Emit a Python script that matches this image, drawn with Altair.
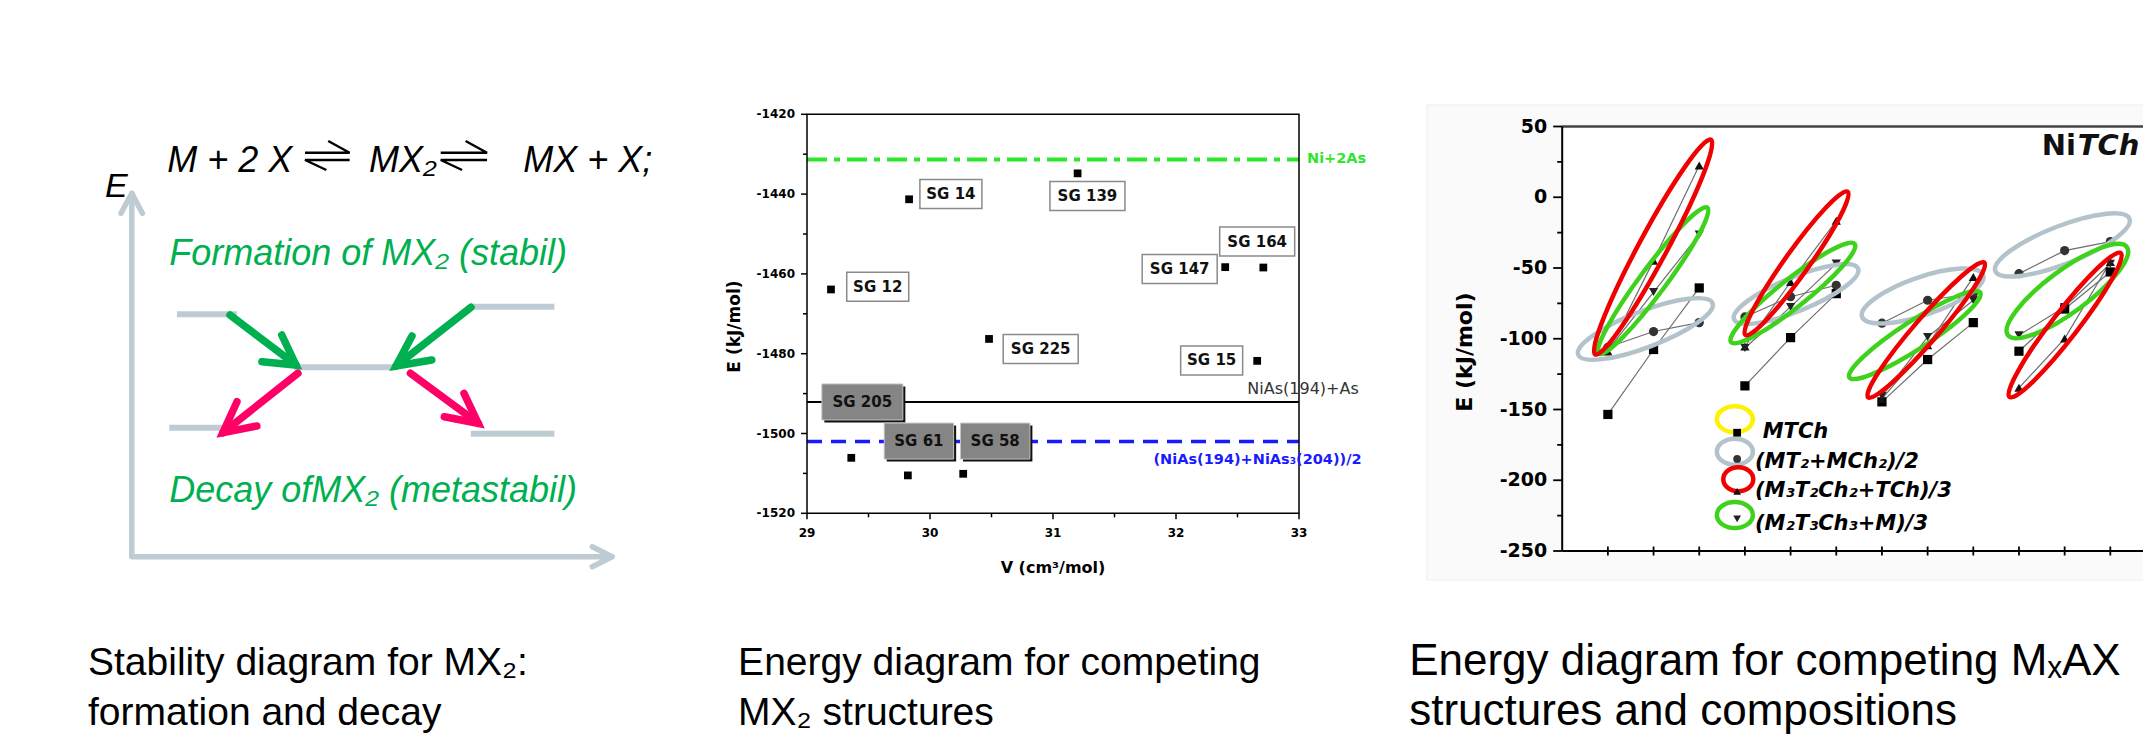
import altair as alt
import pandas as pd

W, H = 2135, 730

# ======================= Panel 1: stability schematic (abstract units 0..100) =======================
lvl_u1 = [9.4, 70.6, 33.8, 7.8, 70.6]
lvl_u2 = [21.9, 88.0, 55.0, 19.7, 88.0]
lvl_v = [66.7, 68.8, 52.1, 35.5, 33.8]

arr_kind = ["formation", "formation", "decay", "decay"]
arr_start_u = [20.45, 70.64, 34.59, 58.02]
arr_start_v = [66.5, 68.63, 50.47, 50.47]
arr_tip_u = [34.19, 55.02, 18.97, 72.14]
arr_tip_v = [52.75, 52.48, 34.12, 36.71]
arr_wa_u = [27.1, 58.35, 21.9, 65.08]
arr_wa_v = [53.66, 60.73, 42.65, 38.52]
arr_wb_u = [31.24, 62.47, 26.03, 69.18]
arr_wb_v = [61.0, 54.13, 35.97, 44.96]

harp_left_u = [36.07, 64.33]
harp_right_u = [45.36, 73.97]
harp_topbarb_u = [40.9, 69.51]
harp_botbarb_u = [40.52, 68.78]
harp_v = [111.17, 114.39, 109.16, 106.41]  # top line, top barb, bottom line, bottom barb

eq_text = ["M + 2 X", "MX\u2082", "MX + X;"]
eq_u = [7.4, 49.4, 81.5]
eq_v = [105.9, 105.9, 105.9]

green_text = ["Formation of MX\u2082 (stabil)", "Decay ofMX\u2082 (metastabil)"]
green_u = [7.8, 7.8]
green_v = [80.3, 15.1]

cap1 = ["Stability diagram for MX\u2082:", "formation and decay"]
cap1_u = [-9.12, -9.12]
cap1_v = [-32.55, -46.31]

# ======================= Panel 2: energy of MX2 structures =======================
v_vals = [29.83, 31.20, 29.195, 30.48, 32.40, 32.71, 32.66, 29.36, 29.82, 30.27]
e_vals = [-1441.3, -1434.8, -1463.9, -1476.3, -1458.3, -1458.4, -1481.8, -1506.1, -1510.5, -1510.1]

sg_white = ["SG 14", "SG 139", "SG 164", "SG 147", "SG 12", "SG 225", "SG 15"]
sg_white_v = [30.17, 31.28, 32.66, 32.03, 29.575, 30.90, 32.29]
sg_white_e = [-1440.0, -1440.5, -1451.9, -1458.8, -1463.2, -1478.8, -1481.7]
sg_gray = ["SG 205", "SG 61", "SG 58"]
sg_gray_v = [29.45, 29.91, 30.53]
sg_gray_e = [-1492.1, -1501.9, -1501.9]

ref_e = [-1431.3, -1492.1, -1502.0]
ref_label = ["Ni+2As", "NiAs(194)+As", "(NiAs(194)+NiAs\u2083(204))/2"]
ref_label_v = [33.065, 32.58, 31.817]
ref_label_e = [-1431.3, -1488.9, -1506.6]

p2_xticks = [29, 30, 31, 32, 33]
p2_xminor = [29.5, 30.5, 31.5, 32.5]
p2_yticks = [-1520, -1500, -1480, -1460, -1440, -1420]
p2_yminor = [-1510, -1490, -1470, -1450, -1430]

cap2 = ["Energy diagram for competing", "MX\u2082 structures"]
cap2_v = [28.44, 28.44]
cap2_e = [-1560.5, -1573.0]

# ======================= Panel 3: MxAX compositions =======================
p3_x = list(range(1, 13))
mtch = [-153.5, -107.6, -64.1, -133.3, -99.2, -68.1, -144.6, -114.7, -88.6, -108.8, -79.0, -52.8]
mt2_mch2 = [-106.0, -94.9, -88.6, -84.6, -70.3, -62.2, -89.0, -72.8, -68.0, -54.0, -37.7, -31.3]
m3t2ch2 = [-109.0, -44.8, 22.5, -105.5, -59.9, -16.6, -142.5, -104.6, -56.4, -134.7, -99.9, -45.8]
m2t3ch3 = [-108.0, -67.0, -26.3, -106.5, -77.5, -46.9, -140.5, -98.7, -72.8, -97.5, -77.5, -47.0]

ell_kind = ["gray", "green", "red", "gray", "green", "red", "gray", "green", "red", "gray", "green", "red"]
ell_cx = [1.82, 1.99, 1.99, 5.12, 5.05, 5.13, 7.89, 7.72, 7.97, 10.95, 11.06, 11.01]
ell_cy = [-93.1, -59.0, -35.2, -68.4, -67.7, -46.7, -69.8, -97.4, -93.8, -33.7, -66.3, -90.3]
ell_a = [72, 91, 122, 67, 79, 88, 64, 78, 89, 72, 74, 91]
ell_b = [18, 13, 14, 17, 14, 12, 19, 14, 12, 19, 21, 13]
ell_tilt = [21, 53.4, 61.7, 22.3, 38.5, 54.5, 19, 33, 49.2, 21.3, 36.5, 52.3]

leg_kind = ["yellow", "gray", "red", "green"]
leg_cx = [3.78, 3.78, 3.855, 3.78]
leg_cy = [-156.9, -179.8, -199.3, -224.6]
leg_a = [18, 18, 15, 18]
leg_b = [13, 13, 12, 13]
leg_series = ["MTCh", "(MT2+MCh2)/2", "(M3T2Ch2+TCh)/3", "(M2T3Ch3+M)/3"]
leg_mark_x = [3.83, 3.83, 3.83, 3.83]
leg_mark_y = [-166.4, -184.9, -207.8, -227.3]
leg_text = ["MTCh", "(MT\u2082+MCh\u2082)/2", "(M\u2083T\u2082Ch\u2082+TCh)/3", "(M\u2082T\u2083Ch\u2083+M)/3"]
leg_text_x = [4.39, 4.22, 4.22, 4.22]
leg_text_y = [-170.4, -191.6, -211.7, -235.2]

p3_yticks = [50, 0, -50, -100, -150, -200, -250]
p3_yminor = [25, -25, -75, -125, -175, -225]

cap3 = ["Energy diagram for competing M\u2093AX", "structures and compositions"]
cap3_x = [-3.35, -3.35]
cap3_y = [-337.6, -372.9]

# ======================= styles =======================
GRAY_LVL = "#bfcbd3"
GREEN = "#00b050"
PINK = "#ff0066"
LIME = "#2ee62e"
BLUE = "#1a1aff"
ELL_COL = {"red": "#f00000", "green": "#3fd21c", "gray": "#b3c2cb", "yellow": "#fff200"}
SHAPES = {"MTCh": "square", "(MT2+MCh2)/2": "circle", "(M3T2Ch2+TCh)/3": "triangle-up", "(M2T3Ch3+M)/3": "triangle-down"}
MCOL = {"MTCh": "#000000", "(MT2+MCh2)/2": "#333333", "(M3T2Ch2+TCh)/3": "#111111", "(M2T3Ch3+M)/3": "#222222"}

P1x = alt.Scale(domain=[0, 100], range=[123.8, 604.0], nice=False, zero=False)
P1y = alt.Scale(domain=[0, 100], range=[548.7, 185.3], nice=False, zero=False)
P2x = alt.Scale(domain=[29, 33], range=[799.0, 1291.0], nice=False, zero=False)
P2y = alt.Scale(domain=[-1520, -1420], range=[505.3, 106.3], nice=False, zero=False)
P3x = alt.Scale(domain=[0, 13], range=[1554.2, 2148.0], nice=False, zero=False)
P3y = alt.Scale(domain=[-250, 50], range=[543.0, 118.5], nice=False, zero=False)


def xy(xs, ys):
    return dict(x=alt.X("x:Q", scale=xs, axis=None), y=alt.Y("y:Q", scale=ys, axis=None))


def T(df, xs, ys, **kw):
    kw.setdefault("baseline", "alphabetic")
    kw.setdefault("align", "left")
    return alt.Chart(df).mark_text(**kw).encode(**xy(xs, ys), text="t:N")


def PL(df, xs, ys, **kw):
    return alt.Chart(df).mark_line(**kw).encode(**xy(xs, ys), detail="id:N", order="ord:Q")


def HR(df, xs, ys, **kw):
    return alt.Chart(df).mark_rule(**kw).encode(**xy(xs, ys), x2="x2:Q")


def VR(df, xs, ys, **kw):
    return alt.Chart(df).mark_rule(**kw).encode(**xy(xs, ys), y2="y2:Q")


def TICK(vals, fixed, axis, xs, ys, size, off, thick=1.5, color="black"):
    if axis == "x":
        df = pd.DataFrame({"x": vals, "y": [fixed] * len(vals)})
        m = alt.Chart(df).mark_tick(orient="vertical", size=size, thickness=thick, yOffset=off, color=color, opacity=1)
    else:
        df = pd.DataFrame({"y": vals, "x": [fixed] * len(vals)})
        m = alt.Chart(df).mark_tick(orient="horizontal", size=size, thickness=thick, xOffset=off, color=color, opacity=1)
    return m.encode(**xy(xs, ys))


def BOX(df, xs, ys, hw, hh, dx=0, dy=0, **kw):
    return alt.Chart(df).mark_rect(xOffset=dx - hw, x2Offset=dx + hw, yOffset=dy - hh, y2Offset=dy + hh, **kw).encode(
        **xy(xs, ys), x2="x:Q", y2="y:Q")


def ellipse_path(r):
    k = 0.5523
    return (f"M1,0C1,{k*r:.4f} {k:.4f},{r:.4f} 0,{r:.4f}C{-k:.4f},{r:.4f} -1,{k*r:.4f} -1,0"
            f"C-1,{-k*r:.4f} {-k:.4f},{-r:.4f} 0,{-r:.4f}C{k:.4f},{-r:.4f} 1,{-k*r:.4f} 1,0Z")


def ELL(kinds, cx, cy, a, b, tilt, xs, ys, sw):
    df = pd.DataFrame({
        "x": cx, "y": cy,
        "col": [ELL_COL[k] for k in kinds],
        "path": [ellipse_path(bb / aa) for aa, bb in zip(a, b)],
        "size": [(2 * aa) ** 2 for aa in a],
        "ang": [(360 - t) % 360 for t in tilt],
    })
    return alt.Chart(df).mark_point(filled=False, opacity=1, strokeWidth=sw).encode(
        **xy(xs, ys),
        shape=alt.Shape("path:N", scale=None),
        size=alt.Size("size:Q", scale=None),
        angle=alt.Angle("ang:Q", scale=None),
        color=alt.Color("col:N", scale=None),
    )


# ----------------------- Panel 1 layers -----------------------
lvl_df = pd.DataFrame({"x": lvl_u1, "x2": lvl_u2, "y": lvl_v})
levels = HR(lvl_df, P1x, P1y, color=GRAY_LVL, strokeWidth=6)

axis_rows = [
    ("axis", 0, 0, 100), ("axis", 1, 0, 0), ("axis", 2, 100, 0),
    ("headv", 0, -2.25, 94.5), ("headv", 1, 0, 100), ("headv", 2, 2.2, 94.5),
    ("headh", 0, 95.9, 2.75), ("headh", 1, 100, 0), ("headh", 2, 95.9, -2.75),
]
axis_df = pd.DataFrame(axis_rows, columns=["id", "ord", "x", "y"])
axes1 = PL(axis_df, P1x, P1y, color=GRAY_LVL, strokeWidth=5.5, strokeCap="round", strokeJoin="round")

arr_rows = []
for i in range(4):
    arr_rows += [(f"s{i}", 0, arr_start_u[i], arr_start_v[i], arr_kind[i]),
                 (f"s{i}", 1, arr_tip_u[i], arr_tip_v[i], arr_kind[i]),
                 (f"h{i}", 0, arr_wa_u[i], arr_wa_v[i], arr_kind[i]),
                 (f"h{i}", 1, arr_tip_u[i], arr_tip_v[i], arr_kind[i]),
                 (f"h{i}", 2, arr_wb_u[i], arr_wb_v[i], arr_kind[i])]
arr_df = pd.DataFrame(arr_rows, columns=["id", "ord", "x", "y", "kind"])
arrows_g = PL(arr_df[arr_df.kind == "formation"], P1x, P1y, color=GREEN, strokeWidth=7.5, strokeCap="round", strokeJoin="miter")
arrows_p = PL(arr_df[arr_df.kind == "decay"], P1x, P1y, color=PINK, strokeWidth=7.5, strokeCap="round", strokeJoin="miter")

harp_rows = []
for i in range(2):
    harp_rows += [(f"t{i}", 0, harp_left_u[i], harp_v[0]), (f"t{i}", 1, harp_right_u[i], harp_v[0]),
                  (f"t{i}", 2, harp_topbarb_u[i], harp_v[1]),
                  (f"b{i}", 0, harp_right_u[i], harp_v[2]), (f"b{i}", 1, harp_left_u[i], harp_v[2]),
                  (f"b{i}", 2, harp_botbarb_u[i], harp_v[3])]
harp_df = pd.DataFrame(harp_rows, columns=["id", "ord", "x", "y"])
harps = PL(harp_df, P1x, P1y, color="black", strokeWidth=2.4, strokeJoin="miter")

eq = T(pd.DataFrame({"x": eq_u, "y": eq_v, "t": eq_text}), P1x, P1y,
       font="Liberation Sans", fontStyle="italic", fontSize=36, color="black")
e_lab = T(pd.DataFrame({"x": [-5.6], "y": [99.1], "t": ["E"]}), P1x, P1y,
          font="Liberation Sans", fontStyle="italic", fontSize=34, color="black")
gtext = T(pd.DataFrame({"x": green_u, "y": green_v, "t": green_text}), P1x, P1y,
          font="Liberation Sans", fontStyle="italic", fontSize=36, color=GREEN)
c1 = T(pd.DataFrame({"x": cap1_u, "y": cap1_v, "t": cap1}), P1x, P1y,
       font="Liberation Sans", fontSize=39, color="black")

panel1 = alt.layer(levels, axes1, arrows_g, arrows_p, harps, eq, e_lab, gtext, c1)

# ----------------------- Panel 2 layers -----------------------
ref_df = pd.DataFrame({"x": [29, 29, 29], "x2": [33, 33, 33], "y": ref_e})
ref_g = HR(ref_df.iloc[[0]], P2x, P2y, color=LIME, strokeWidth=4, strokeDash=[20, 7, 6, 7])
ref_k = HR(ref_df.iloc[[1]], P2x, P2y, color="black", strokeWidth=2)
ref_b = HR(ref_df.iloc[[2]], P2x, P2y, color=BLUE, strokeWidth=3.5, strokeDash=[15, 9])

frame = alt.Chart(pd.DataFrame({"x": [29], "x2": [33], "y": [-1520], "y2": [-1420]})).mark_rect(
    fillOpacity=0, stroke="black", strokeWidth=1.5).encode(**xy(P2x, P2y), x2="x2:Q", y2="y2:Q")

p2_ticks = [
    TICK(p2_xticks, -1520, "x", P2x, P2y, 6, 3),
    TICK(p2_xminor, -1520, "x", P2x, P2y, 4, 2),
    TICK(p2_yticks, 29, "y", P2x, P2y, 6, -3),
    TICK(p2_yminor, 29, "y", P2x, P2y, 4, -2),
]
p2_xlab = T(pd.DataFrame({"x": p2_xticks, "y": [-1520] * 5, "t": [str(v) for v in p2_xticks]}), P2x, P2y,
            align="center", baseline="middle", dy=20, font="DejaVu Sans", fontWeight="bold", fontSize=12, color="black")
p2_ylab = T(pd.DataFrame({"x": [29] * 6, "y": p2_yticks, "t": [str(v) for v in p2_yticks]}), P2x, P2y,
            align="right", baseline="middle", dx=-12, font="DejaVu Sans", fontWeight="bold", fontSize=12, color="black")
p2_ytitle = T(pd.DataFrame({"x": [28.412], "y": [-1473.2], "t": ["E (kJ/mol)"]}), P2x, P2y,
              align="center", baseline="middle", angle=270, font="DejaVu Sans", fontWeight="bold", fontSize=17, color="black")
p2_xtitle = T(pd.DataFrame({"x": [31.0], "y": [-1533.7], "t": ["V (cm\u00b3/mol)"]}), P2x, P2y,
              align="center", baseline="middle", font="DejaVu Sans", fontWeight="bold", fontSize=16, color="black")

pts2 = alt.Chart(pd.DataFrame({"x": v_vals, "y": e_vals})).mark_point(
    shape="square", filled=True, size=60, color="black", opacity=1).encode(**xy(P2x, P2y))

wdf = pd.DataFrame({"x": sg_white_v, "y": sg_white_e, "t": sg_white})
gdf = pd.DataFrame({"x": sg_gray_v, "y": sg_gray_e, "t": sg_gray})
w5 = wdf[wdf.t.str.len() == 5]
w6 = wdf[wdf.t.str.len() == 6]
g5 = gdf[gdf.t.str.len() == 5]
g6 = gdf[gdf.t.str.len() == 6]
boxes = [
    BOX(w5, P2x, P2y, 31, 14.5, fill="white", stroke="#8a8a8a", strokeWidth=1.5),
    BOX(w6, P2x, P2y, 37.5, 14.5, fill="white", stroke="#8a8a8a", strokeWidth=1.5),
    BOX(g5, P2x, P2y, 34.7, 18, dx=2.5, dy=2.5, fill="#111111"),
    BOX(g6, P2x, P2y, 40.5, 18, dx=2.5, dy=2.5, fill="#111111"),
    BOX(g5, P2x, P2y, 34.7, 18, fill="#858585", stroke="#c4c4c4", strokeWidth=1),
    BOX(g6, P2x, P2y, 40.5, 18, fill="#858585", stroke="#c4c4c4", strokeWidth=1),
]
sg_txt = T(pd.concat([wdf, gdf]), P2x, P2y, align="center", baseline="middle",
           font="DejaVu Sans", fontWeight="bold", fontSize=15, color="#111111")

rl = pd.DataFrame({"x": ref_label_v, "y": ref_label_e, "t": ref_label})
ref_t1 = T(rl.iloc[[0]], P2x, P2y, baseline="middle", font="DejaVu Sans", fontWeight="bold", fontSize=14.5, color=LIME)
ref_t2 = T(rl.iloc[[1]], P2x, P2y, baseline="middle", font="DejaVu Sans", fontSize=16, color="#333333")
ref_t3 = T(rl.iloc[[2]], P2x, P2y, baseline="middle", font="DejaVu Sans", fontWeight="bold", fontSize=14.5, color=BLUE)

c2 = T(pd.DataFrame({"x": cap2_v, "y": cap2_e, "t": cap2}), P2x, P2y,
       font="Liberation Sans", fontSize=39, color="black")

panel2 = alt.layer(ref_g, ref_k, ref_b, *p2_ticks, frame, pts2, *boxes, sg_txt, ref_t1, ref_t2, ref_t3,
                   p2_xlab, p2_ylab, p2_ytitle, p2_xtitle, c2)

# ----------------------- Panel 3 layers -----------------------
bg = alt.Chart(pd.DataFrame({"x": [-2.96], "x2": [13.3], "y": [65.2], "y2": [-270.5]})).mark_rect(
    fill="#fafafa", stroke="#eeeeee", strokeWidth=1).encode(**xy(P3x, P3y), x2="x2:Q", y2="y2:Q")
plot_bg = alt.Chart(pd.DataFrame({"x": [0], "x2": [13.3], "y": [50], "y2": [-250]})).mark_rect(
    fill="white").encode(**xy(P3x, P3y), x2="x2:Q", y2="y2:Q")

series_vals = {"MTCh": mtch, "(MT2+MCh2)/2": mt2_mch2, "(M3T2Ch2+TCh)/3": m3t2ch2, "(M2T3Ch3+M)/3": m2t3ch3}
rows = []
for s, vals in series_vals.items():
    for xv, yv in zip(p3_x, vals):
        rows.append({"series": s, "x": xv, "y": yv, "id": f"{s}-{(xv - 1) // 3}", "ord": xv,
                     "shape": SHAPES[s], "col": MCOL[s]})
p3df = pd.DataFrame(rows)
p3_lines = PL(p3df, P3x, P3y, color="#6e6e6e", strokeWidth=1.2)
p3_pts = alt.Chart(p3df).mark_point(filled=True, opacity=1, size=85).encode(
    **xy(P3x, P3y), shape=alt.Shape("shape:N", scale=None), color=alt.Color("col:N", scale=None))

ells = ELL(ell_kind, ell_cx, ell_cy, ell_a, ell_b, ell_tilt, P3x, P3y, 4.5)
leg_ells = ELL(leg_kind, leg_cx, leg_cy, leg_a, leg_b, [0, 0, 0, 0], P3x, P3y, 4.5)
legm = pd.DataFrame({"x": leg_mark_x, "y": leg_mark_y, "shape": [SHAPES[s] for s in leg_series],
                     "col": [MCOL[s] for s in leg_series]})
leg_pts = alt.Chart(legm).mark_point(filled=True, opacity=1, size=60).encode(
    **xy(P3x, P3y), shape=alt.Shape("shape:N", scale=None), color=alt.Color("col:N", scale=None))
leg_txt = T(pd.DataFrame({"x": leg_text_x, "y": leg_text_y, "t": leg_text}), P3x, P3y,
            font="DejaVu Sans", fontWeight="bold", fontStyle="italic", fontSize=21, color="black")

top_line = HR(pd.DataFrame({"x": [0], "x2": [13.3], "y": [50]}), P3x, P3y, color="#444444", strokeWidth=2.5)
bot_line = HR(pd.DataFrame({"x": [0], "x2": [13.3], "y": [-250]}), P3x, P3y, color="black", strokeWidth=2)
left_line = VR(pd.DataFrame({"x": [0], "y": [-250], "y2": [50]}), P3x, P3y, color="black", strokeWidth=2)
p3_ticks = [
    TICK(p3_x, -250, "x", P3x, P3y, 9, 0, thick=1.8),
    TICK(p3_yticks, 0, "y", P3x, P3y, 9, -4.5, thick=1.8),
    TICK(p3_yminor, 0, "y", P3x, P3y, 5, -2.5, thick=1.8),
]
p3_ylab = T(pd.DataFrame({"x": [0] * 7, "y": p3_yticks, "t": [str(v) for v in p3_yticks]}), P3x, P3y,
            align="right", baseline="middle", dx=-15, font="DejaVu Sans", fontWeight="bold", fontSize=19, color="black")
p3_ytitle = T(pd.DataFrame({"x": [-2.13], "y": [-109.4], "t": ["E (kJ/mol)"]}), P3x, P3y,
              align="center", baseline="middle", angle=270, font="DejaVu Sans", fontWeight="bold", fontSize=22, color="black")
ni = T(pd.DataFrame({"x": [10.5], "y": [29.9], "t": ["Ni"]}), P3x, P3y,
       font="DejaVu Sans", fontWeight="bold", fontSize=29, color="#111111")
tch = T(pd.DataFrame({"x": [10.5], "y": [29.9], "t": ["TCh"]}), P3x, P3y, dx=36,
        font="DejaVu Sans", fontWeight="bold", fontStyle="italic", fontSize=29, color="#111111")
c3 = T(pd.DataFrame({"x": cap3_x, "y": cap3_y, "t": cap3}), P3x, P3y,
       font="Liberation Sans", fontSize=44, color="black")

panel3 = alt.layer(bg, plot_bg, p3_lines, p3_pts, ells, leg_ells, leg_pts, leg_txt, top_line, bot_line, left_line,
                   *p3_ticks, p3_ylab, p3_ytitle, ni, tch, c3)

chart = alt.layer(panel1, panel2, panel3).resolve_scale(
    x="independent", y="independent"
).properties(
    width=W, height=H, autosize=alt.AutoSizeParams(type="none"), padding=0
).configure_view(strokeWidth=0)

chart.save("out.html", embed_options={"renderer": "svg", "actions": False})
